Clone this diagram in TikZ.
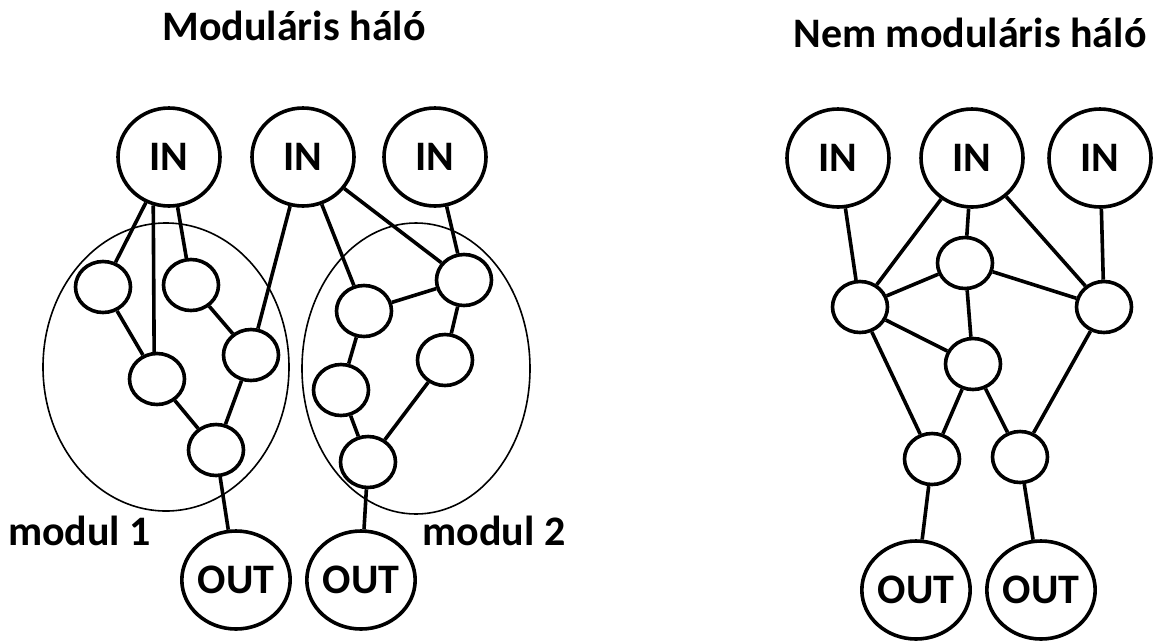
\documentclass[tikz,border=0pt]{standalone}
\usepackage{fontspec}
\setmainfont{Carlito}
\usetikzlibrary{shapes.geometric}
\begin{document}
\begin{tikzpicture}[x=1pt,y=-1pt,
  every node/.style={font=\fontsize{42}{50}\selectfont\bfseries},
  big/.style={ellipse, draw, line width=3.6pt, minimum width=102pt, minimum height=98pt, inner sep=0pt},
  small/.style={ellipse, draw, line width=3.6pt, minimum width=55pt, minimum height=51pt, inner sep=0pt},
  conn/.style={line width=3.6pt},
  module/.style={ellipse, draw, line width=1.6pt, inner sep=0pt},
  label/.style={anchor=base, inner sep=0pt}
]
\useasboundingbox (0,0) rectangle (1153,641);

% titles
\node[label] (t1) at (294,40) {Moduláris háló};
\node[label] (t2) at (970,47) {Nem moduláris háló};

% module ellipses
\node[module, minimum width=246pt, minimum height=288pt] (m1) at (166,367) {};
\node[module, minimum width=228pt, minimum height=291pt] (m2) at (416,368.5) {};
\node[label] (l1) at (79.5,545) {modul 1};
\node[label] (l2) at (494,545) {modul 2};

% left network
\node[big] (IN1) at (169,157) {IN};
\node[big] (IN2) at (303,157) {IN};
\node[big] (IN3) at (435,157) {IN};
\node[small] (a1) at (103,287) {};
\node[small] (a2) at (191,285) {};
\node[small] (a3) at (157,379) {};
\node[small] (a4) at (251,355) {};
\node[small] (a5) at (216,450) {};
\node[small] (b1) at (464,280) {};
\node[small] (b2) at (364,311) {};
\node[small] (b3) at (445,360) {};
\node[small] (b4) at (341,390) {};
\node[small] (b5) at (368,462) {};
\node[big] (O1) at (236,580) {OUT};
\node[big] (O2) at (361,580) {OUT};

\draw[conn] (IN1) -- (a1);
\draw[conn] (IN1.252) -- (a3.96);
\draw[conn] (IN1) -- (a2);
\draw[conn] (a1) -- (a3);
\draw[conn] (a2) -- (a4);
\draw[conn] (IN2) -- (a4);
\draw[conn] (a3) -- (a5);
\draw[conn] (a4) -- (a5);
\draw[conn] (a5) -- (O1);
\draw[conn] (IN2) -- (b2);
\draw[conn] (IN2) -- (b1);
\draw[conn] (IN3) -- (b1);
\draw[conn] (b2) -- (b1);
\draw[conn] (b2) -- (b4);
\draw[conn] (b1) -- (b3);
\draw[conn] (b4) -- (b5);
\draw[conn] (b3) -- (b5);
\draw[conn] (b5) -- (O2);

% right network
\node[big] (R1) at (838,158) {IN};
\node[big] (R2) at (972,158) {IN};
\node[big] (R3) at (1100,158) {IN};
\node[small] (c1) at (860,307) {};
\node[small] (c2) at (965,263) {};
\node[small] (c3) at (1104,307) {};
\node[small] (c4) at (973,364) {};
\node[small] (d1) at (932,459) {};
\node[small] (d2) at (1020,457) {};
\node[big] (Q1) at (916,590) {OUT};
\node[big] (Q2) at (1041,590) {OUT};

\draw[conn] (R1) -- (c1);
\draw[conn] (R2) -- (c1);
\draw[conn] (R2) -- (c2);
\draw[conn] (R2) -- (c3);
\draw[conn] (R3) -- (c3);
\draw[conn] (c1) -- (c2);
\draw[conn] (c2) -- (c3);
\draw[conn] (c1) -- (c4);
\draw[conn] (c2) -- (c4);
\draw[conn] (c1) -- (d1);
\draw[conn] (c4) -- (d1);
\draw[conn] (c4) -- (d2);
\draw[conn] (c3) -- (d2);
\draw[conn] (d1) -- (Q1);
\draw[conn] (d2) -- (Q2);
\end{tikzpicture}
\end{document}
